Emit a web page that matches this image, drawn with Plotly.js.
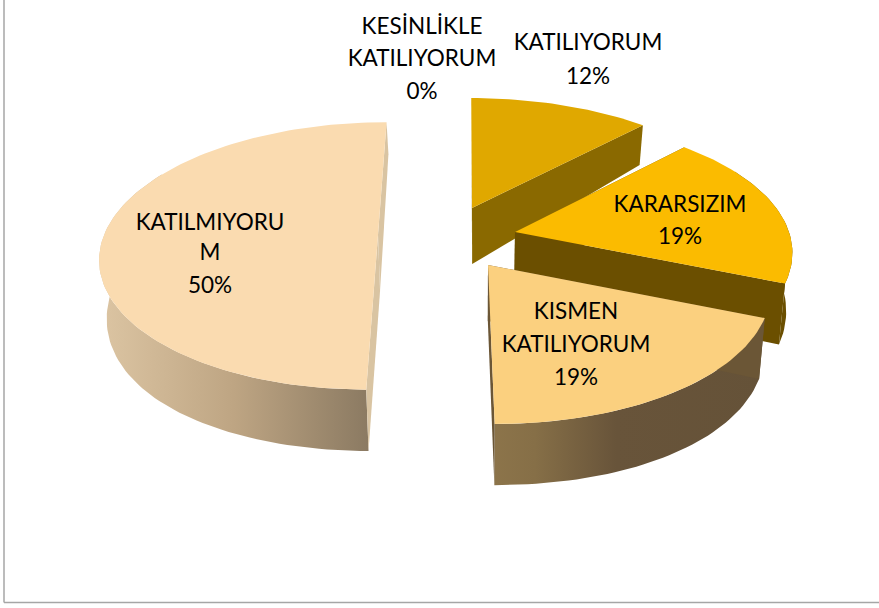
<!DOCTYPE html>
<html><head><meta charset="utf-8">
<script src="https://cdn.plot.ly/plotly-3.0.1.min.js"></script>
<style>html,body{margin:0;padding:0;background:#fff}</style></head>
<body><div id="chart" style="width:879px;height:608px"></div>
<script>
// Data (percent shares, clockwise from the top)
var categories = ["KESİNLİKLE KATILIYORUM","KATILIYORUM","KARARSIZIM","KISMEN KATILIYORUM","KATILMIYORUM"];
var percents = [0, 12, 19, 19, 50];

// Label text lines
var labelLines = ["KESİNLİKLE","KATILIYORUM","0%","KATILIYORUM","12%","KARARSIZIM","19%","KISMEN","KATILIYORUM","19%","KATILMIYORU","M","50%"];
var labelX = [422,422,422,588,588,680,680,576,576,576,210,210,210];
var labelY = [28,60,93,44,78,206,238,313,346,379,224,254,287];

// Per-slice styling and explosion position
var apexX = [472,472,515,488,378];
var apexY = [208,208,232,265,235];
var radiusX = [279,279,274,278,274];
var offsetX = [20,20,0,60,-72];
var topColors = ["#E0A800","#E0A800","#FBBB00","#FBD07F","#FADBB0"];
var cutColors = ["#8A6900","#8A6900","#6B4F00","#6B5636","#D9C4A2"];
var wallScales = [
  [[0,"#8A6900"],[1,"#8A6900"]],
  [[0,"#8A6900"],[1,"#8A6900"]],
  [[0,"#6B4F00"],[1,"#6B4F00"]],
  [[0,"#8C744A"],[0.15,"#866F47"],[0.45,"#68543A"],[1,"#655238"]],
  [[0,"#DCC5A3"],[0.5,"#BEA583"],[1,"#8B7A62"]]
];

// Projection of the tilted pie
var RY = 131, P = 0.157, RY2 = 148, P2 = 0.079, DEPTH = 56, XS = 0.98, VX = 480, ROT = 0.3;
var CY = 240, K = 0.75, WALL_FROM = 60, WALL_TO = 300;

function topPt(i, deg){
  var a = deg*Math.PI/180, X = Math.sin(a), Y = -Math.cos(a), w = 1-P*Y;
  var sx = offsetX[i]*(1/w-1)*K, sy = (apexY[i]-CY)*(1/w-1)*K;
  return [apexX[i]+sx+radiusX[i]*X/w, apexY[i]+sy+RY*Y/w];
}
function botPt(i, deg){
  var a = deg*Math.PI/180, X = Math.sin(a), Y = -Math.cos(a), w = 1-P*Y, w2 = 1-P2*Y;
  var t = topPt(i, deg), sy = (apexY[i]-CY)*(1/w-1)*K;
  return [VX+XS*(t[0]-VX), apexY[i]+sy+DEPTH+RY2*Y/w2];
}
function arc(fn, i, s, e){
  var out = [], n = Math.max(2, Math.ceil((e-s)/1.5));
  for (var k=0;k<=n;k++) out.push(fn(i, s+(e-s)*k/n));
  return out;
}
function poly(pts, name, extra){
  var t = {type:"scatter", mode:"lines", x:pts.map(function(p){return p[0]}).concat([pts[0][0]]),
    y:pts.map(function(p){return p[1]}).concat([pts[0][1]]), fill:"toself", line:{width:0}, hoverinfo:"name", name:name, showlegend:false};
  for (var k in extra) t[k]=extra[k];
  return t;
}
var traces = [], start = ROT;
percents.forEach(function(v,i){
  var end = start + v*3.6;
  if (v>0){
    var aT=[apexX[i],apexY[i]], aB=[VX+XS*(apexX[i]-VX),apexY[i]+DEPTH], name=categories[i];
    var ws = Math.max(start, WALL_FROM), we = Math.min(end, WALL_TO);
    if (we > ws){
      var wall = arc(topPt,i,ws,we).concat(arc(botPt,i,ws,we).reverse());
      traces.push(poly(wall,name,{fillgradient:{type:"horizontal",colorscale:wallScales[i]}}));
    }
    traces.push(poly([aT,topPt(i,start),botPt(i,start),aB],name,{fillcolor:cutColors[i]}));
    traces.push(poly([aT,topPt(i,end),botPt(i,end),aB],name,{fillcolor:cutColors[i]}));
    traces.push(poly([aT].concat(arc(topPt,i,start,end)),name,{fillcolor:topColors[i]}));
  }
  start = end;
});
traces.push({type:"scatter",mode:"text",x:labelX,y:labelY,text:labelLines,textposition:"middle center",
  textfont:{family:"Lato, Carlito, sans-serif",size:22.5,color:"#000"},hoverinfo:"skip",showlegend:false});

var layout = {width:879,height:608,margin:{l:0,r:0,t:0,b:0},paper_bgcolor:"#fff",plot_bgcolor:"#fff",showlegend:false,
  xaxis:{range:[0,879],visible:false,fixedrange:true},
  yaxis:{range:[608,0],visible:false,fixedrange:true},
  shapes:[
    {type:"line",xref:"x",yref:"y",x0:4,x1:4,y0:0,y1:602.5,line:{color:"#A6A6A6",width:1.5}},
    {type:"line",xref:"x",yref:"y",x0:4,x1:879,y0:602.5,y1:602.5,line:{color:"#A6A6A6",width:1.5}}
  ]};
Plotly.newPlot("chart",traces,layout,{displayModeBar:false,staticPlot:true});
</script></body></html>
